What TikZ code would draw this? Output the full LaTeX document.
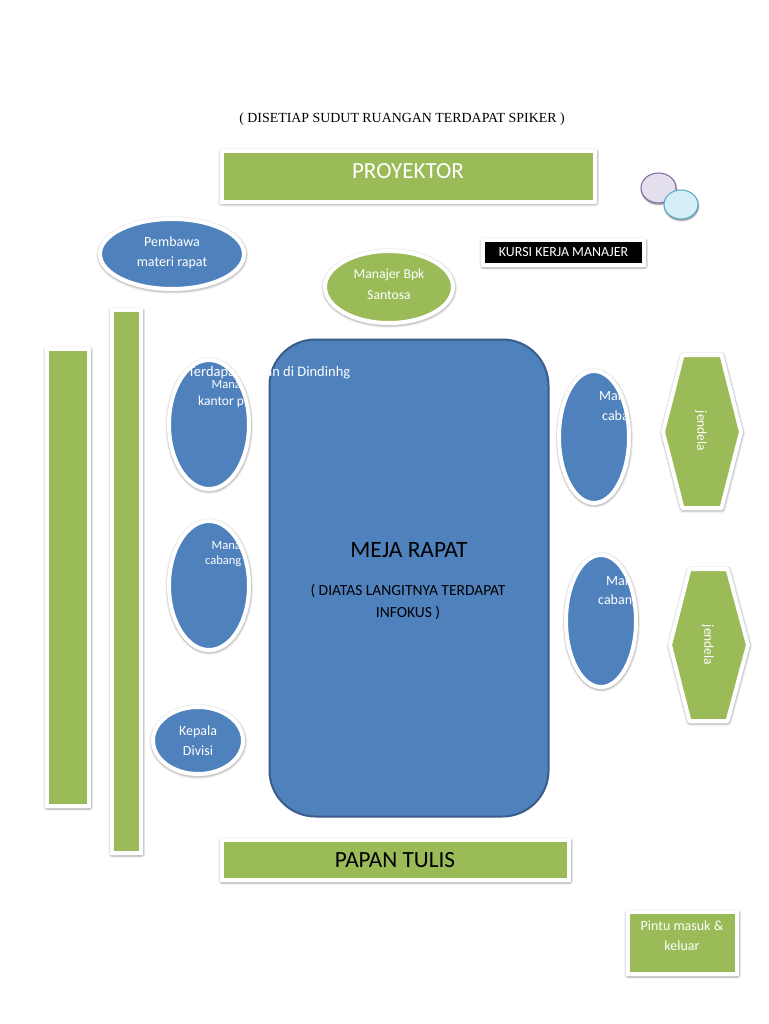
\documentclass[tikz,border=0pt]{standalone}
\usepackage{fontspec}
\setmainfont{Carlito}
\newfontfamily\titlefont{Liberation Serif}
\usetikzlibrary{shapes.geometric,shadows}
\definecolor{gr}{HTML}{9BBB59}
\definecolor{bl}{HTML}{4F81BD}
\definecolor{bld}{HTML}{385D8A}
\definecolor{pu}{HTML}{E4DFEC}
\definecolor{pud}{HTML}{8064A2}
\definecolor{cy}{HTML}{D5EEF7}
\definecolor{cyd}{HTML}{4BACC6}
\tikzset{
 x=1pt,y=-1pt,
 shd/.style={
  general shadow={shadow xshift=0.3pt,shadow yshift=-1pt,draw=black,fill=black,line width=8pt,line join=round,opacity=.04},
  general shadow={shadow xshift=0.3pt,shadow yshift=-1pt,draw=black,fill=black,line width=6.5pt,line join=round,opacity=.07},
  general shadow={shadow xshift=0.3pt,shadow yshift=-1pt,draw=black,fill=black,line width=5pt,line join=round,opacity=.10}},
 box/.style={rectangle,draw=white,line width=4pt,inner sep=0pt,outer sep=0pt,shd,text=white,align=center},
 oval/.style={ellipse,draw=white,line width=4pt,inner sep=0pt,outer sep=0pt,shd,fill=bl,text=white,align=center},
 lbl/.style={inner sep=0pt,text=white,anchor=west},
 wht/.style={inner sep=0pt,text=white},
 blk/.style={inner sep=0pt,text=black},
 windowshape/.style={draw=white,line width=4pt,line join=round,fill=gr,shd},
 bub/.style={ellipse,line width=1pt,inner sep=0pt,
  general shadow={shadow xshift=0.5pt,shadow yshift=-1.5pt,draw=black,fill=black,line width=2.5pt,opacity=.10},
  general shadow={shadow xshift=0.5pt,shadow yshift=-1.5pt,draw=black,fill=black,line width=1pt,opacity=.15}},
}
\newcommand{\fs}[1]{\fontsize{#1}{#1}\selectfont}
\begin{document}
\begin{tikzpicture}
\useasboundingbox (0,0) rectangle (768,1024);
\fill[white] (0,0) rectangle (768,1024);
\node[blk,font=\titlefont\fs{13.9}] (title) at (402,119.5) {( DISETIAP SUDUT RUANGAN TERDAPAT SPIKER )};

\node[box,fill=gr,minimum width=373pt,minimum height=51pt] (proyektor) at (408.5,176.5) {};
\node[wht,font=\fs{23.1}] (proyektorT) at (408,171) {PROYEKTOR};

\node[oval,minimum width=144pt,minimum height=70pt] (pembawa) at (172,254) {};
\node[wht,font=\fs{14}] (pembawaA) at (172,241.5) {Pembawa};
\node[wht,font=\fs{14}] (pembawaB) at (172,262.5) {materi rapat};

\node[oval,fill=gr,minimum width=128pt,minimum height=72pt] (santosa) at (389,287) {};
\node[wht,font=\fs{13.7}] (santosaA) at (389,274.5) {Manajer Bpk};
\node[wht,font=\fs{13.7}] (santosaB) at (389,295.5) {Santosa};

\node[box,fill=black,minimum width=161pt,minimum height=25pt] (kursi) at (563.5,252.5) {};
\node[wht,font=\fs{13.9}] (kursiT) at (563.5,252.5) {KURSI KERJA MANAJER};

\node[bub,draw=pud,fill=pu,minimum width=35pt,minimum height=30pt] (bubbleA) at (658.5,188) {};
\node[bub,draw=cyd,fill=cy,minimum width=34pt,minimum height=29pt] (bubbleB) at (681,204.5) {};

\node[box,fill=gr,minimum width=42pt,minimum height=457pt] (barA) at (68,577.5) {};
\node[box,fill=gr,minimum width=29pt,minimum height=543pt] (barB) at (126.5,581.5) {};

% left ellipses
\node[oval,minimum width=80pt,minimum height=129pt] (kiriA) at (209,424.5) {};
\begin{scope}
\clip (209,424.5) ellipse [x radius=38,y radius=62.5];
\node[lbl,font=\fs{12.5}] (kiriAa) at (211.5,385) {Manaj};
\node[lbl,font=\fs{13.5}] (kiriAb) at (198,401.5) {kantor p};
\end{scope}
\node[oval,minimum width=80pt,minimum height=129pt] (kiriB) at (209,585.5) {};
\begin{scope}
\clip (209,585.5) ellipse [x radius=38,y radius=62.5];
\node[lbl,font=\fs{12.5}] (kiriBa) at (211.5,546) {Manaj};
\node[lbl,font=\fs{12.5}] (kiriBb) at (205,561) {cabang J};
\end{scope}
\node[oval,minimum width=90pt,minimum height=67pt] (kepala) at (198,740.5) {};
\node[wht,font=\fs{14}] (kepalaA) at (198,731.5) {Kepala};
\node[wht,font=\fs{14}] (kepalaB) at (198,751) {Divisi};

% table
\node[rectangle,rounded corners=46pt,draw=bld,line width=2pt,fill=bl,minimum width=279pt,minimum height=477pt,inner sep=0pt] (meja) at (409,578) {};
\node[inner sep=0pt,text=white,anchor=west,font=\fs{14.5}] (terdapat) at (188,372.5) {Terdapat papan di Dindinhg};
\node[blk,font=\fs{23.4}] (mejaT) at (409,550.5) {MEJA RAPAT};
\node[blk,font=\fs{15.5}] (mejaA) at (408,591) {( DIATAS LANGITNYA TERDAPAT};
\node[blk,font=\fs{15.5}] (mejaB) at (408,612.5) {INFOKUS )};

% right ellipses
\node[oval,minimum width=70pt,minimum height=132pt] (kananA) at (594,437) {};
\begin{scope}
\clip (594,437) ellipse [x radius=33,y radius=64];
\node[lbl,font=\fs{14}] (kananAa) at (599,396.5) {Man};
\node[lbl,font=\fs{14}] (kananAb) at (602,416) {caba};
\end{scope}
\node[oval,minimum width=70pt,minimum height=132pt] (kananB) at (601,621) {};
\begin{scope}
\clip (601,621) ellipse [x radius=33,y radius=64];
\node[lbl,font=\fs{14}] (kananBa) at (606,581) {Man};
\node[lbl,font=\fs{14}] (kananBb) at (598,601) {cabang};
\end{scope}

% windows
\path[windowshape] (682.5,355) -- (721.5,355) -- (741,432) -- (721.5,508) -- (682.5,508) -- (663,432) -- cycle;
\node[wht,rotate=-90,font=\fs{13.5}] (jendelaA) at (701,431) {jendela};
\path[windowshape] (689.5,569) -- (727.5,569) -- (748,645) -- (727.5,721) -- (689.5,721) -- (670,645) -- cycle;
\node[wht,rotate=-90,font=\fs{13.5}] (jendelaB) at (708,645) {jendela};

\node[box,fill=gr,minimum width=347pt,minimum height=40pt] (papan) at (395.5,860) {};
\node[blk,font=\fs{23.2}] (papanT) at (395,860) {PAPAN TULIS};

\node[box,fill=gr,minimum width=109pt,minimum height=62pt] (pintu) at (682.5,943) {};
\node[wht,font=\fs{14}] (pintuA) at (682,926) {Pintu masuk \&};
\node[wht,font=\fs{14}] (pintuB) at (682,946) {keluar};
\end{tikzpicture}
\end{document}
